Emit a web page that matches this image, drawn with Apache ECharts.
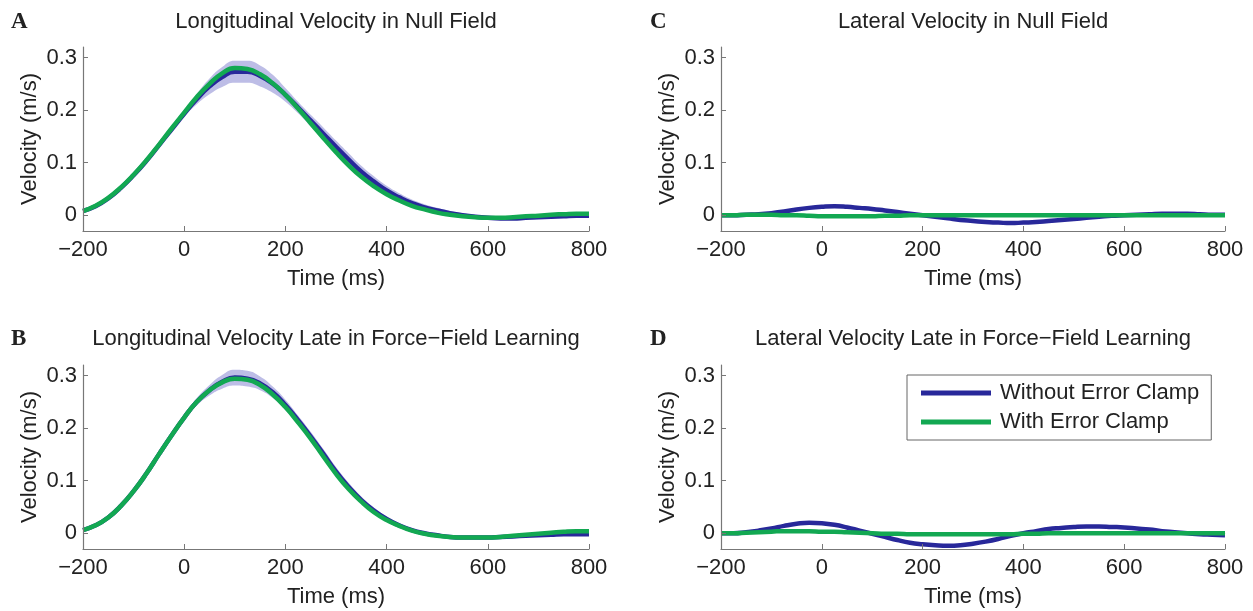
<!DOCTYPE html>
<html>
<head>
<meta charset="utf-8">
<script src="https://cdn.jsdelivr.net/npm/echarts@6/dist/echarts.min.js"></script>
<style>
html,body{margin:0;padding:0;background:#fff;}
#chart{width:1253px;height:611px;}
</style>
</head>
<body>
<div id="chart"></div>
<script>
// ---- data (sampled every 25 ms) ----
const time = [-200,-175,-150,-125,-100,-75,-50,-25,0,25,50,75,100,125,150,175,200,225,250,275,300,325,350,375,400,425,450,475,500,525,550,575,600,625,650,675,700,725,750,775,800];
const yTicks = [0,0.1,0.2,0.3];

const titles = [
  'Longitudinal Velocity in Null Field',
  'Longitudinal Velocity Late in Force\u2212Field Learning',
  'Lateral Velocity in Null Field',
  'Lateral Velocity Late in Force\u2212Field Learning'
];
const letters = ['A','B','C','D'];
const seriesNames = ['Without Error Clamp','With Error Clamp'];

// Panel A: longitudinal, null field
const aWithout = [0.008,0.017,0.032,0.052,0.076,0.103,0.133,0.163,0.193,0.221,0.245,0.263,0.273,0.273,0.265,0.250,0.229,0.205,0.180,0.155,0.130,0.106,0.083,0.064,0.047,0.034,0.023,0.015,0.009,0.004,0.000,-0.003,-0.005,-0.006,-0.006,-0.005,-0.004,-0.003,-0.002,-0.001,-0.001];
const aWith    = [0.008,0.018,0.033,0.053,0.077,0.104,0.134,0.165,0.195,0.225,0.250,0.270,0.280,0.278,0.268,0.251,0.229,0.203,0.175,0.147,0.120,0.095,0.073,0.055,0.040,0.028,0.018,0.011,0.005,0.001,-0.002,-0.004,-0.005,-0.005,-0.004,-0.002,-0.001,0.001,0.002,0.003,0.003];
const aUpper   = [0.009,0.018,0.034,0.054,0.078,0.105,0.136,0.167,0.199,0.231,0.260,0.282,0.294,0.294,0.285,0.267,0.242,0.216,0.191,0.167,0.142,0.118,0.094,0.074,0.056,0.042,0.030,0.021,0.014,0.008,0.004,0.001,-0.001,-0.003,-0.003,-0.002,-0.001,0.000,0.001,0.002,0.002];
const aLower   = [0.007,0.016,0.030,0.050,0.074,0.101,0.130,0.159,0.187,0.211,0.230,0.244,0.252,0.252,0.245,0.233,0.216,0.194,0.169,0.143,0.118,0.094,0.072,0.054,0.038,0.026,0.016,0.009,0.004,0.000,-0.004,-0.007,-0.009,-0.009,-0.009,-0.008,-0.007,-0.006,-0.005,-0.004,-0.004];

// Panel B: longitudinal, late force-field learning
const bWithout = [0.006,0.015,0.030,0.052,0.080,0.113,0.150,0.186,0.220,0.250,0.272,0.288,0.296,0.294,0.285,0.268,0.244,0.215,0.184,0.151,0.117,0.088,0.063,0.043,0.027,0.015,0.006,0.000,-0.004,-0.007,-0.008,-0.008,-0.008,-0.007,-0.006,-0.005,-0.004,-0.003,-0.002,-0.002,-0.002];
const bWith    = [0.006,0.015,0.030,0.052,0.080,0.113,0.150,0.186,0.220,0.250,0.272,0.287,0.294,0.292,0.282,0.264,0.240,0.211,0.180,0.146,0.113,0.084,0.060,0.040,0.025,0.014,0.005,-0.001,-0.005,-0.007,-0.008,-0.008,-0.008,-0.007,-0.005,-0.003,-0.001,0.001,0.003,0.004,0.004];
const bUpper   = [0.007,0.016,0.031,0.053,0.081,0.115,0.152,0.189,0.224,0.257,0.282,0.301,0.311,0.309,0.298,0.279,0.254,0.224,0.193,0.160,0.126,0.096,0.070,0.049,0.032,0.019,0.009,0.003,-0.001,-0.005,-0.006,-0.006,-0.006,-0.005,-0.004,-0.003,-0.002,-0.001,0.000,0.000,0.000];
const bLower   = [0.005,0.014,0.029,0.051,0.079,0.111,0.148,0.183,0.216,0.243,0.262,0.275,0.281,0.279,0.272,0.257,0.234,0.206,0.175,0.142,0.108,0.080,0.056,0.037,0.022,0.011,0.003,-0.003,-0.007,-0.009,-0.010,-0.010,-0.010,-0.009,-0.008,-0.007,-0.006,-0.005,-0.004,-0.004,-0.004];

// Panel C: lateral, null field
const cWithout = [0.000,0.000,0.001,0.002,0.004,0.007,0.011,0.014,0.016,0.017,0.016,0.014,0.012,0.009,0.006,0.003,0.000,-0.003,-0.006,-0.009,-0.011,-0.013,-0.014,-0.015,-0.014,-0.013,-0.011,-0.009,-0.007,-0.005,-0.003,-0.001,0.000,0.001,0.002,0.003,0.003,0.003,0.002,0.001,0.001];
const cWith    = [0.000,0.000,0.001,0.001,0.001,0.000,0.000,-0.001,-0.002,-0.002,-0.002,-0.002,-0.002,-0.001,-0.001,0.000,0.000,0.000,0.000,0.000,0.000,0.000,0.000,0.000,0.000,0.000,0.000,0.000,0.000,0.000,0.000,0.000,0.000,0.000,0.000,0.000,0.000,0.000,0.000,0.000,0.000];

// Panel D: lateral, late force-field learning
const dWithout = [0.000,0.000,0.002,0.005,0.009,0.014,0.018,0.020,0.019,0.016,0.011,0.005,-0.001,-0.007,-0.013,-0.018,-0.021,-0.023,-0.024,-0.023,-0.020,-0.016,-0.011,-0.005,0.000,0.004,0.008,0.010,0.012,0.013,0.013,0.012,0.011,0.009,0.007,0.004,0.002,0.000,-0.002,-0.003,-0.004];
const dWith    = [0.000,0.000,0.001,0.002,0.003,0.004,0.004,0.004,0.003,0.003,0.002,0.001,0.000,-0.001,-0.001,-0.002,-0.002,-0.002,-0.002,-0.002,-0.002,-0.002,-0.002,-0.002,-0.001,-0.001,0.000,0.000,0.000,0.000,0.000,0.000,0.000,0.000,0.000,0.000,0.000,0.000,0.000,0.000,0.000];

// ---- styling ----
const BLUE = '#28289a';
const GREEN = '#12a852';
const BAND = '#bdbde6';
const FONT = "'Liberation Sans', Arial, Helvetica, sans-serif";
const TXT = '#222';
const AX = '#777';

const grids = [
  {left: 83, top: 47, width: 506, height: 184},   // A
  {left: 83, top: 365, width: 506, height: 184},  // B
  {left: 721, top: 47, width: 504, height: 184},  // C
  {left: 721, top: 365, width: 504, height: 184}  // D
];
const titlePos = [[336,22],[336,339],[973,22],[973,339]];
const letterPos = [[11,22],[11,339],[650,22],[650,339]];

const panels = [
  {without: aWithout, withC: aWith, upper: aUpper, lower: aLower},
  {without: bWithout, withC: bWith, upper: bUpper, lower: bLower},
  {without: cWithout, withC: cWith},
  {without: dWithout, withC: dWith}
];

const pairs = arr => time.map((t, i) => [t, arr[i]]);
const fmtX = v => v < 0 ? '\u2212' + Math.abs(v) : String(v);
const fmtY = v => Math.abs(v) < 1e-9 ? '0' : v.toFixed(1);

const xAxes = grids.map((g, i) => ({
  type: 'value', gridIndex: i, min: -200, max: 800, interval: 200, z: 10,
  name: 'Time (ms)', nameLocation: 'middle', nameGap: 37,
  nameTextStyle: {fontFamily: FONT, fontSize: 22, color: TXT},
  axisLine: {show: true, onZero: false, lineStyle: {color: AX, width: 1.2}},
  axisTick: {show: true, inside: true, length: 5, lineStyle: {color: AX}},
  axisLabel: {fontFamily: FONT, fontSize: 22, color: TXT, margin: 8, formatter: fmtX},
  splitLine: {show: false}
}));
const yAxes = grids.map((g, i) => ({
  type: 'value', gridIndex: i, min: -0.03, max: 0.32, z: 10,
  name: 'Velocity (m/s)', nameLocation: 'middle', nameGap: 42,
  nameTextStyle: {fontFamily: FONT, fontSize: 22, color: TXT},
  axisLine: {show: true, onZero: false, lineStyle: {color: AX, width: 1.2}},
  axisTick: {show: true, inside: true, length: 5, lineStyle: {color: AX}, customValues: yTicks},
  axisLabel: {fontFamily: FONT, fontSize: 22, color: TXT, margin: 6, formatter: fmtY, customValues: yTicks},
  splitLine: {show: false}
}));

const series = [];
panels.forEach((p, i) => {
  if (p.upper) {
    // band: upper bound filled down to axis min, then lower bound filled white down to axis min
    series.push({
      type: 'line', xAxisIndex: i, yAxisIndex: i,
      data: pairs(p.upper), smooth: true, showSymbol: false, symbol: 'none',
      lineStyle: {width: 0, opacity: 0}, areaStyle: {color: BAND, opacity: 1, origin: 'start'},
      silent: true, z: 1
    });
    series.push({
      type: 'line', xAxisIndex: i, yAxisIndex: i,
      data: pairs(p.lower), smooth: true, showSymbol: false, symbol: 'none',
      lineStyle: {width: 0, opacity: 0}, areaStyle: {color: '#ffffff', opacity: 1, origin: 'start'},
      silent: true, z: 1
    });
  }
  series.push({
    name: seriesNames[0], type: 'line', xAxisIndex: i, yAxisIndex: i,
    data: pairs(p.without), smooth: true, showSymbol: false, symbol: 'none',
    lineStyle: {color: BLUE, width: 4.5}, itemStyle: {color: BLUE}, z: 3
  });
  series.push({
    name: seriesNames[1], type: 'line', xAxisIndex: i, yAxisIndex: i,
    data: pairs(p.withC), smooth: true, showSymbol: false, symbol: 'none',
    lineStyle: {color: GREEN, width: 4.5}, itemStyle: {color: GREEN}, z: 4
  });
});

const graphics = [];
titles.forEach((t, i) => {
  graphics.push({type: 'text', x: titlePos[i][0], y: titlePos[i][1],
    style: {text: t, font: "22px 'Liberation Sans', Arial, sans-serif", fill: TXT, textAlign: 'center', textVerticalAlign: 'middle'}});
  graphics.push({type: 'text', x: letterPos[i][0], y: letterPos[i][1],
    style: {text: letters[i], font: "bold 23px 'Liberation Serif', 'Times New Roman', serif", fill: '#222', textAlign: 'left', textVerticalAlign: 'middle'}});
});

const chart = echarts.init(document.getElementById('chart'), null, {renderer: 'canvas'});
chart.setOption({
  animation: false,
  backgroundColor: '#fff',
  grid: grids,
  xAxis: xAxes,
  yAxis: yAxes,
  legend: {
    orient: 'vertical', left: 907, top: 375,
    data: [
      {name: seriesNames[0], icon: 'rect', itemStyle: {color: BLUE}},
      {name: seriesNames[1], icon: 'rect', itemStyle: {color: GREEN}}
    ],
    itemWidth: 70, itemHeight: 5, itemGap: 7,
    padding: [7, 12, 7, 14],
    borderColor: '#666', borderWidth: 1, backgroundColor: '#fff',
    textStyle: {fontFamily: FONT, fontSize: 22, color: TXT, padding: [0, 0, 0, 4]},
    selectedMode: false
  },
  series: series,
  graphic: graphics
});
</script>
</body>
</html>
